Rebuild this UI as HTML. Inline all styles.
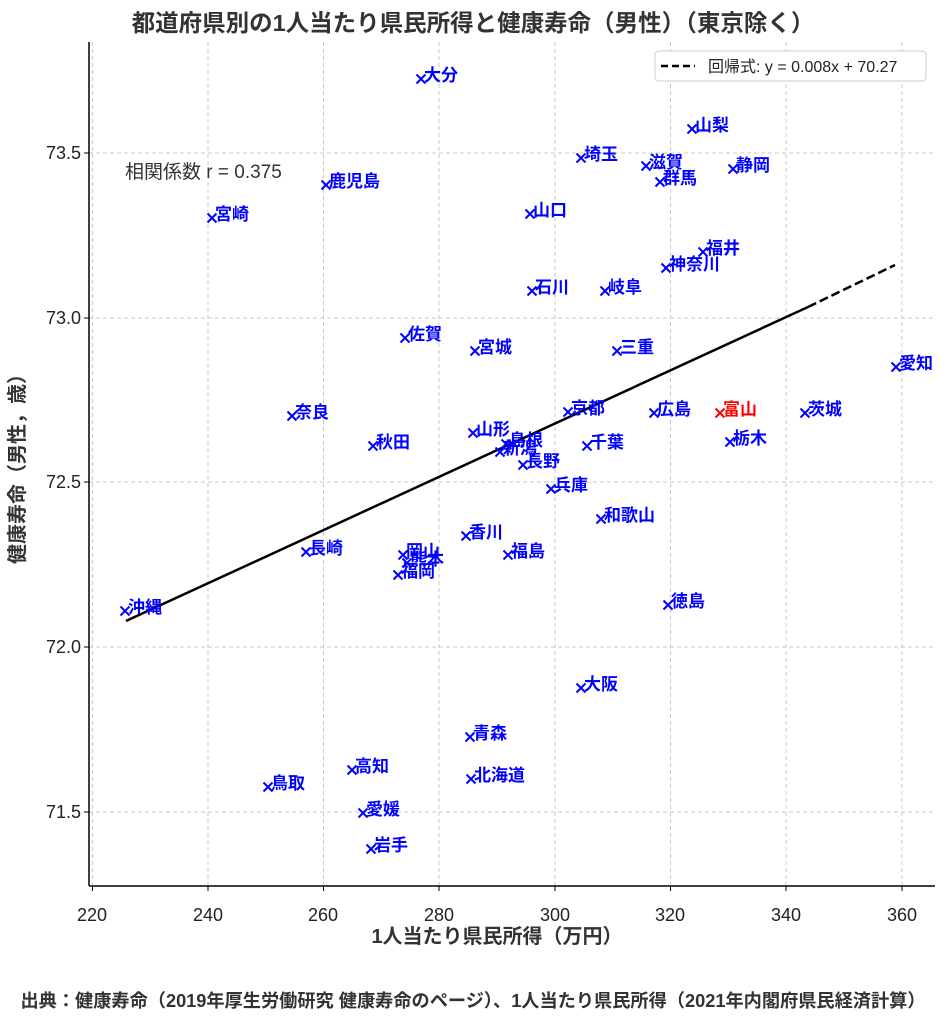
<!DOCTYPE html>
<html><head><meta charset="utf-8"><style>
html,body{margin:0;padding:0;background:#fff;}
svg{display:block;font-family:"Liberation Sans","Noto Sans CJK JP",sans-serif;}
.l{fill:#0000ff;font-size:17px;font-weight:bold;}
.g{stroke:#c8c8c8;stroke-width:1;stroke-dasharray:4,3;}
</style></head><body>
<svg width="950" height="1024" viewBox="0 0 950 1024">
<text x="473" y="31" text-anchor="middle" font-size="23.5" font-weight="bold" fill="#333">都道府県別の1人当たり県民所得と健康寿命（男性）（東京除く）</text>
<g class="g">
<line x1="92.5" y1="42" x2="92.5" y2="886"/><line x1="208" y1="42" x2="208" y2="886"/><line x1="323.5" y1="42" x2="323.5" y2="886"/>
<line x1="439" y1="42" x2="439" y2="886"/><line x1="555" y1="42" x2="555" y2="886"/><line x1="670.5" y1="42" x2="670.5" y2="886"/>
<line x1="786" y1="42" x2="786" y2="886"/><line x1="902" y1="42" x2="902" y2="886"/>
<line x1="89" y1="153" x2="935" y2="153"/><line x1="89" y1="318" x2="935" y2="318"/><line x1="89" y1="482" x2="935" y2="482"/>
<line x1="89" y1="647" x2="935" y2="647"/><line x1="89" y1="812" x2="935" y2="812"/>
</g>
<line x1="89" y1="42" x2="89" y2="886" stroke="#000" stroke-width="1.5"/>
<line x1="89" y1="886" x2="935" y2="886" stroke="#000" stroke-width="1.5"/>
<g stroke="#000" stroke-width="1">
<line x1="92.5" y1="886" x2="92.5" y2="891"/><line x1="208" y1="886" x2="208" y2="891"/><line x1="323.5" y1="886" x2="323.5" y2="891"/><line x1="439" y1="886" x2="439" y2="891"/><line x1="555" y1="886" x2="555" y2="891"/><line x1="670.5" y1="886" x2="670.5" y2="891"/><line x1="786" y1="886" x2="786" y2="891"/><line x1="902" y1="886" x2="902" y2="891"/>
<line x1="84" y1="153" x2="89" y2="153"/><line x1="84" y1="318" x2="89" y2="318"/><line x1="84" y1="482" x2="89" y2="482"/><line x1="84" y1="647" x2="89" y2="647"/><line x1="84" y1="812" x2="89" y2="812"/>
</g>
<g font-size="18" fill="#222" text-anchor="middle">
<text x="92" y="921">220</text><text x="208" y="921">240</text><text x="323" y="921">260</text><text x="439" y="921">280</text>
<text x="555" y="921">300</text><text x="670" y="921">320</text><text x="786" y="921">340</text><text x="902" y="921">360</text>
</g>
<g font-size="18" fill="#222" text-anchor="end">
<text x="81" y="159">73.5</text><text x="81" y="324">73.0</text><text x="81" y="488">72.5</text><text x="81" y="653">72.0</text><text x="81" y="818">71.5</text>
</g>
<text x="497" y="943" text-anchor="middle" font-size="20" font-weight="bold" fill="#333">1人当たり県民所得（万円）</text>
<text transform="translate(24,464) rotate(-90)" text-anchor="middle" font-size="20" font-weight="bold" fill="#333">健康寿命（男性，歳）</text>
<text x="473" y="1007" text-anchor="middle" font-size="18.2" font-weight="bold" fill="#333">出典：健康寿命（2019年厚生労働研究 健康寿命のページ）、1人当たり県民所得（2021年内閣府県民経済計算）</text>
<text x="125" y="178" font-size="19" fill="#333">相関係数 r = 0.375</text>
<line x1="126" y1="621" x2="808" y2="307" stroke="#000" stroke-width="2.5"/>
<line x1="808" y1="307" x2="895" y2="265" stroke="#000" stroke-width="2.5" stroke-dasharray="9,4"/>
<rect x="655" y="51" width="271" height="30" rx="4" fill="#fff" stroke="#ccc"/>
<line x1="661" y1="66" x2="695" y2="66" stroke="#000" stroke-width="2.5" stroke-dasharray="7,4"/>
<text x="708" y="72" font-size="16" fill="#222">回帰式: y = 0.008x + 70.27</text>
<g id="pts"></g>
</svg>
<script>
const d=[["大分",421,79],["山梨",692,129],["埼玉",581,158],["滋賀",646,166],["静岡",733,169],["群馬",660,182],["鹿児島",326,185],["宮崎",212,218],["山口",530,214],["福井",703,252],["神奈川",666,268],["石川",532,291],["岐阜",605,291],["佐賀",405,338],["宮城",475,351],["三重",617,351],["愛知",896,367],["奈良",292,416],["京都",568,412],["広島",654,413],["富山",720,413,1],["茨城",805,413],["山形",473,433],["秋田",373,446],["千葉",587,446],["栃木",730,442],["島根",506,444],["新潟",500,452],["長野",523,465],["兵庫",551,489],["和歌山",601,519],["香川",466,536],["福島",508,555],["長崎",306,552],["岡山",403,555],["熊本",407,563],["福岡",398,575],["沖縄",125,611],["徳島",668,605],["大阪",581,688],["青森",470,737],["北海道",471,779],["高知",352,770],["鳥取",268,787],["愛媛",363,813],["岩手",371,849]];
let s="";
for(const [n,x,y,r] of d){const c=r?"#ff0000":"#0000ff";
s+=`<path d="M${x-4.5} ${y-4.5}L${x+4.5} ${y+4.5}M${x-4.5} ${y+4.5}L${x+4.5} ${y-4.5}" stroke="${c}" stroke-width="2"/>`;
s+=`<text class="l" x="${x+3}" y="${y+2}" style="fill:${c}">${n}</text>`;}
document.getElementById("pts").innerHTML=s;
</script>
</body></html>
